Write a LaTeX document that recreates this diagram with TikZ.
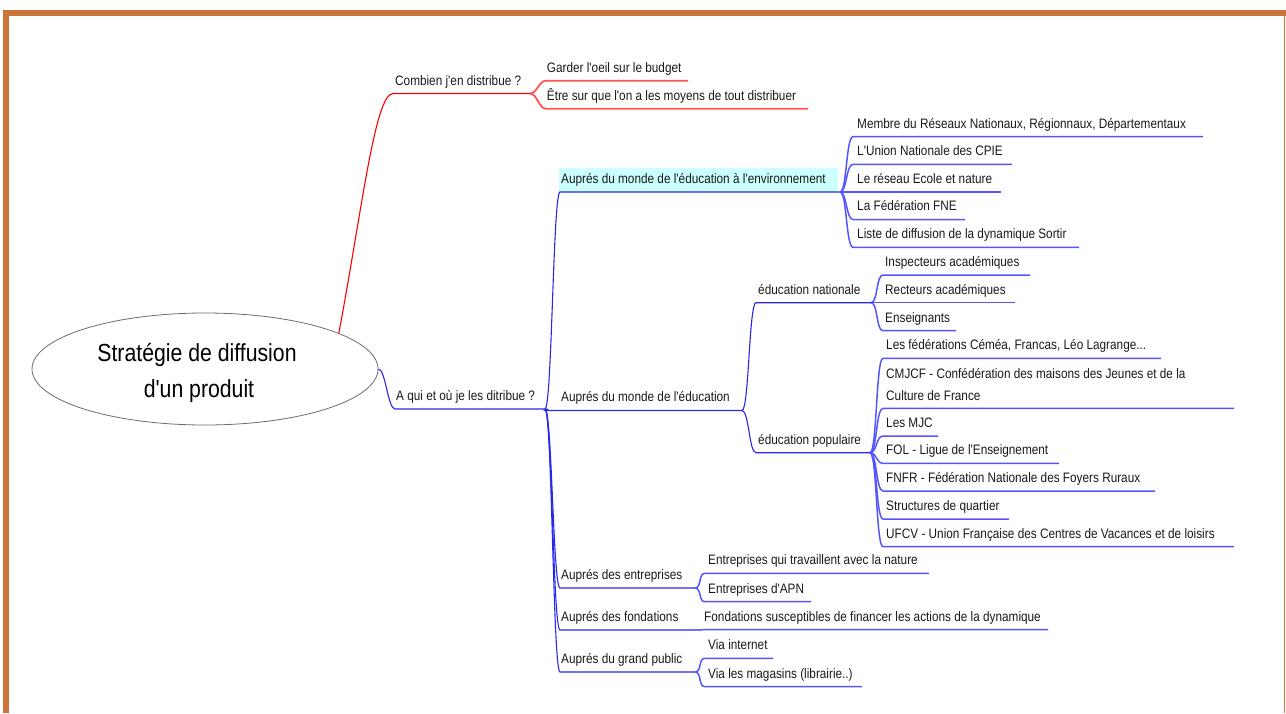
\documentclass[tikz,border=0pt]{standalone}
\usepackage{fontspec}
\setmainfont{Liberation Sans}[FakeStretch=0.86, Ligatures=TeXOff]
\usetikzlibrary{shapes.geometric}
\definecolor{framec}{RGB}{201,117,57}
\definecolor{bluebr}{RGB}{40,40,235}
\definecolor{blueleaf}{RGB}{85,85,255}
\definecolor{redbr}{RGB}{255,0,0}
\definecolor{redleaf}{RGB}{255,85,85}
\definecolor{envcyan}{RGB}{204,255,255}
\definecolor{txtc}{RGB}{25,25,25}
\begin{document}
\begin{tikzpicture}[x=1pt,y=-1pt,
  txt/.style={anchor=base west, inner sep=0pt, font=\fontsize{13.7}{16}\selectfont, text=txtc},
  bigtxt/.style={anchor=base, inner sep=0pt, font=\fontsize{24.7}{30}\selectfont, text=black},
  bl/.style={draw=bluebr, line width=1.1pt},
  bll/.style={draw=blueleaf, line width=1.5pt},
  rd/.style={draw=redbr, line width=1.1pt},
  rdl/.style={draw=redleaf, line width=1.8pt},
  mm/.style={out=0, in=180, out distance=7pt, in distance=7pt}]
\useasboundingbox (0,0) rectangle (1286,713);
% frame
\fill[framec] (3,10) rectangle (1286,15.5);
\fill[framec] (3,10) rectangle (8.5,713);
\draw[framec, line width=1.2pt] (1284.6,10) -- (1284.6,713);

% root
\node[ellipse, draw=gray!85!black, line width=0.8pt, fill=white, minimum width=346pt, minimum height=112pt, inner sep=0pt] (root) at (205,369) {};
\node[bigtxt] (rootA) at (197,361) {Stratégie de diffusion};
\node[bigtxt] (rootB) at (199,397) {d'un produit};

% ---------- red branch ----------
\coordinate (cmbL) at (393,93.5);
\coordinate (cmbR) at (530,93.5);
\coordinate (gardL) at (546,80.7);
\coordinate (gardR) at (688,80.7);
\coordinate (etreL) at (546,108.7);
\coordinate (etreR) at (808,108.7);
\draw[rd] (root.15) .. controls (362,210) and (375,93.5) .. (cmbL) -- (cmbR);
\draw[rdl] (cmbR) to[mm] (gardL) -- (gardR);
\draw[rdl] (cmbR) to[mm] (etreL) -- (etreR);
\node[txt] (cmb) at (395,85) {Combien j'en distribue ?};
\node[txt] (gard) at (546.7,72) {Garder l'oeil sur le budget};
\node[txt] (etre) at (546.7,100) {Être sur que l'on a les moyens de tout distribuer};

% ---------- blue branch ----------
\coordinate (aqL) at (395,409);
\coordinate (aqR) at (545,409);
\draw[bl] (root.east) to[mm] (aqL) -- (aqR);
\node[txt] (aqui) at (396,400) {A qui et où je les ditribue ?};

% environment topic
\node[fill=envcyan, inner xsep=2pt, inner ysep=0pt, minimum height=24pt, anchor=north west, font=\fontsize{13.7}{16}\selectfont, text=txtc] (env) at (559,168) {\makebox[275pt][l]{Auprés du monde de l'éducation à l'environnement}};
\coordinate (envL) at (560,192);
\coordinate (envR) at (840,192);
\draw[bl] (aqR) to[mm] (envL) -- (envR);
\foreach \n/\y/\r in {m1/136.7/1203, m2/164.3/1012, m3/192/1001, m4/219.5/965, m5/247.3/1079}{
  \coordinate (\n L) at (853,\y);
  \coordinate (\n R) at (\r,\y);
  \draw[bll] (envR) to[mm] (\n L) -- (\n R);
}
\node[txt] (m1) at (857,128) {Membre du Réseaux Nationaux, Régionnaux, Départementaux};
\node[txt] (m2) at (857,155.5) {L'Union Nationale des CPIE};
\node[txt] (m3) at (857,183) {Le réseau Ecole et nature};
\node[txt] (m4) at (857,210.5) {La Fédération FNE};
\node[txt] (m5) at (857,238.5) {Liste de diffusion de la dynamique Sortir};

% education topic
\coordinate (eduL) at (547,410.5);
\coordinate (eduR) at (742,410.5);
\draw[bl] (aqR) to[mm] (eduL) -- (eduR);
\node[txt] (edu) at (561,401.5) {Auprés du monde de l'éducation};

% education nationale
\coordinate (natL) at (756,302.7);
\coordinate (natR) at (871,302.7);
\draw[bl] (eduR) to[mm] (natL) -- (natR);
\node[txt] (nat) at (758,294) {éducation nationale};
\foreach \n/\y/\r in {n1/275/1030, n2/302.7/1015, n3/330.7/956}{
  \coordinate (\n L) at (883,\y);
  \coordinate (\n R) at (\r,\y);
  \draw[bll] (natR) to[mm] (\n L) -- (\n R);
}
\node[txt] (n1) at (885,266) {Inspecteurs académiques};
\node[txt] (n2) at (885,294) {Recteurs académiques};
\node[txt] (n3) at (885,322) {Enseignants};

% education populaire
\coordinate (popL) at (756,452.7);
\coordinate (popR) at (870,452.7);
\draw[bl] (eduR) to[mm] (popL) -- (popR);
\node[txt] (pop) at (758,444) {éducation populaire};
\foreach \n/\y/\r in {p1/358.3/1161, p2/408.3/1234, p3/436/938, p4/463.3/1059, p5/491/1155, p6/519/1009, p7/546.7/1234}{
  \coordinate (\n L) at (883,\y);
  \coordinate (\n R) at (\r,\y);
  \draw[bll] (popR) to[mm] (\n L) -- (\n R);
}
\node[txt] (p1) at (886,349.5) {Les fédérations Céméa, Francas, Léo Lagrange...};
\node[txt] (p2a) at (886,378) {CMJCF - Confédération des maisons des Jeunes et de la};
\node[txt] (p2b) at (886,400) {Culture de France};
\node[txt] (p3) at (886,427) {Les MJC};
\node[txt] (p4) at (886,454.5) {FOL - Ligue de l'Enseignement};
\node[txt] (p5) at (886,482) {FNFR - Fédération Nationale des Foyers Ruraux};
\node[txt] (p6) at (886,510) {Structures de quartier};
\node[txt] (p7) at (886,538) {UFCV - Union Française des Centres de Vacances et de loisirs};

% entreprises
\coordinate (entL) at (560,588);
\coordinate (entR) at (695,588);
\draw[bl] (aqR) to[mm] (entL) -- (entR);
\node[txt] (ent) at (561,579) {Auprés des entreprises};
\foreach \n/\y/\r in {e1/573.3/929, e2/601.7/811}{
  \coordinate (\n L) at (705,\y);
  \coordinate (\n R) at (\r,\y);
  \draw[bll] (entR) to[mm] (\n L) -- (\n R);
}
\node[txt] (e1) at (708,564.5) {Entreprises qui travaillent avec la nature};
\node[txt] (e2) at (708,593) {Entreprises d'APN};

% fondations
\coordinate (fonL) at (560,630);
\coordinate (fonR) at (701,630);
\coordinate (f1L) at (704,629.5);
\coordinate (f1R) at (1048,629.5);
\draw[bl] (aqR) to[mm] (fonL) -- (fonR);
\draw[bll] (fonR) -- (f1L) -- (f1R);
\node[txt] (fon) at (561,621) {Auprés des fondations};
\node[txt] (f1) at (704,621) {Fondations susceptibles de financer les actions de la dynamique};

% grand public
\coordinate (gpL) at (560,672);
\coordinate (gpR) at (695,672);
\draw[bl] (aqR) to[mm] (gpL) -- (gpR);
\node[txt] (gp) at (561,663) {Auprés du grand public};
\foreach \n/\y/\r in {g1/658.3/773, g2/686.7/862}{
  \coordinate (\n L) at (705,\y);
  \coordinate (\n R) at (\r,\y);
  \draw[bll] (gpR) to[mm] (\n L) -- (\n R);
}
\node[txt] (g1) at (708,649.5) {Via internet};
\node[txt] (g2) at (708,678) {Via les magasins (librairie..)};
\end{tikzpicture}
\end{document}
